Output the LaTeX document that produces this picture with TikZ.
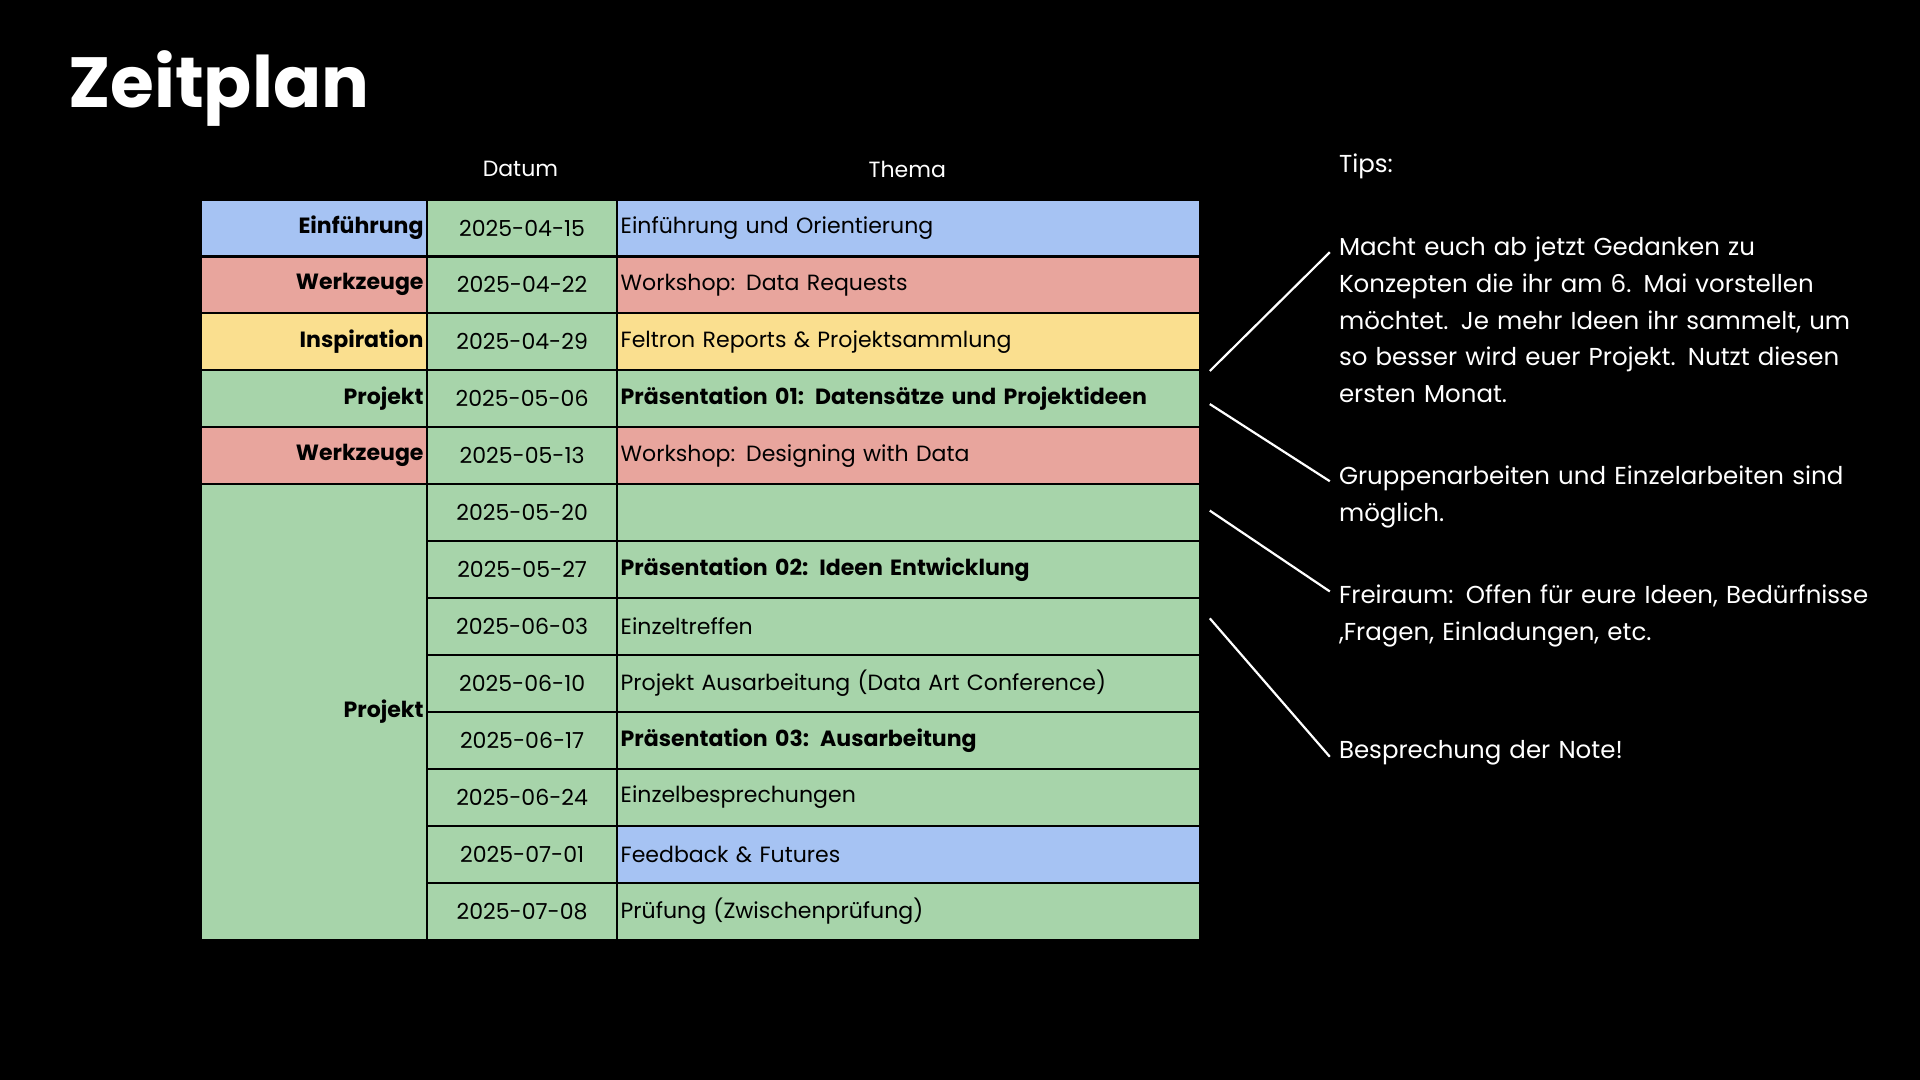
\documentclass[tikz,border=0pt]{standalone}
\usepackage{fontspec}
\setmainfont{Poppins}
\usetikzlibrary{positioning}
\definecolor{cellblue}{HTML}{A6C3F3}
\definecolor{cellred}{HTML}{E8A59D}
\definecolor{cellyellow}{HTML}{FADF8F}
\definecolor{cellgreen}{HTML}{A7D4AA}
\tikzset{
  cell/.style={draw=black, line width=1.8pt, inner sep=3pt, minimum height=46.5pt, font=\fontsize{18}{22}\selectfont},
  catcell/.style={cell, minimum width=185pt, align=right, text width=179pt, font=\fontsize{18}{22}\selectfont\bfseries},
  datecell/.style={cell, minimum width=155pt},
  topiccell/.style={cell, minimum width=476pt, text width=470pt, align=left},
  tiptext/.style={text=white, anchor=north west, text width=440pt, align=left, font=\fontsize{20}{30}\selectfont},
  tipline/.style={white, line width=1.8pt}
}
\begin{document}
\begin{tikzpicture}[x=1pt, y=-1pt]
  \fill[black] (0,0) rectangle (1568,882);
  \useasboundingbox (0,0) rectangle (1568,882);
  % Title and headers
  \node[text=white, anchor=west, font=\fontsize{58}{64}\selectfont\bfseries] (title) at (52,72) {Zeitplan};
  \node[text=white, font=\fontsize{18}{22}\selectfont] (hdate) at (425,138) {Datum};
  \node[text=white, font=\fontsize{18}{22}\selectfont] (htopic) at (741,138) {Thema};
  % Rows
  \foreach \i/\col/\cat/\date/\topic in {
      0/cellblue/Einführung/2025-04-15/Einführung und Orientierung,
      1/cellred/Werkzeuge/2025-04-22/Workshop: Data Requests,
      2/cellyellow/Inspiration/2025-04-29/Feltron Reports \& Projektsammlung,
      3/cellgreen/Projekt/2025-05-06/{\bfseries Präsentation 01: Datensätze und Projektideen},
      4/cellred/Werkzeuge/2025-05-13/Workshop: Designing with Data,
      5/cellgreen//2025-05-20/{},
      6/cellgreen//2025-05-27/{\bfseries Präsentation 02: Ideen Entwicklung},
      7/cellgreen//2025-06-03/Einzeltreffen,
      8/cellgreen//2025-06-10/Projekt Ausarbeitung (Data Art Conference),
      9/cellgreen//2025-06-17/{\bfseries Präsentation 03: Ausarbeitung},
      10/cellgreen//2025-06-24/Einzelbesprechungen,
      11/cellblue//2025-07-01/Feedback \& Futures,
      12/cellgreen//2025-07-08/Prüfung (Zwischenprüfung)} {
    \node[datecell, fill=cellgreen, anchor=north west] (d\i) at (348,162+46.5*\i) {\date};
    \node[topiccell, fill=\col, anchor=north west] (t\i) at (503,162+46.5*\i) {\topic};
    \ifnum\i<5
      \node[catcell, fill=\col, anchor=north west] (c\i) at (163,162+46.5*\i) {\cat};
    \fi
  }
  \node[catcell, fill=cellgreen, anchor=north west, minimum height=372pt] (c5) at (163,394.5) {Projekt};
  % Tips
  \node[tiptext] (tiphead) at (1090,122) {Tips:};
  \node[tiptext] (tip1) at (1090,190) {Macht euch ab jetzt Gedanken zu Konzepten die ihr am 6. Mai vorstellen möchtet. Je mehr Ideen ihr sammelt, um so besser wird euer Projekt. Nutzt diesen ersten Monat.};
  \node[tiptext] (tip2) at (1090,377) {Gruppenarbeiten und Einzelarbeiten sind möglich.};
  \node[tiptext] (tip3) at (1090,474) {Freiraum: Offen für eure Ideen, Bedürfnisse ,Fragen, Einladungen, etc.};
  \node[tiptext] (tip4) at (1090,601) {Besprechung der Note!};
  \coordinate (a1) at (988,303); \coordinate (b1) at (1086,206);
  \coordinate (a2) at (988,330); \coordinate (b2) at (1086,393);
  \coordinate (a3) at (988,417); \coordinate (b3) at (1086,483);
  \coordinate (a4) at (988,505); \coordinate (b4) at (1086,618);
  \foreach \k in {1,...,4} { \draw[tipline] (a\k) -- (b\k); }
\end{tikzpicture}
\end{document}
